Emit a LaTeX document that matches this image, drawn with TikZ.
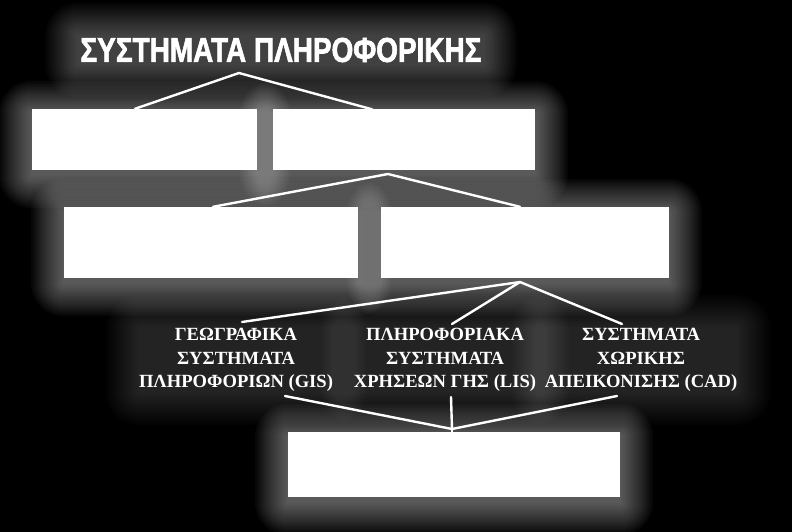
\documentclass[tikz,border=0pt]{standalone}
\usepackage{fontspec}
\setmainfont{Liberation Serif}
\newfontfamily\titlefont[BoldFeatures={FakeBold=2}]{Liberation Sans}
\usetikzlibrary{calc,backgrounds}
\tikzset{
  wbox/.style={draw=none, fill=white, inner sep=0pt, minimum width=#1},
  conn/.style={draw=white, line width=2.4pt, line cap=round, line join=round},
  lbl/.style={text=white, align=center, font=\fontsize{18.6}{23.5}\selectfont\bfseries, inner sep=0pt}
}
\newcommand{\glowaround}[3]{%
  \foreach \s in {1,3,...,33}{%
    \fill[white, opacity=#1, rounded corners=\s pt] ([shift={(-\s pt,\s pt-#2pt)}]#3.north west) rectangle ([shift={(\s pt,-\s pt-#2pt)}]#3.south east);
  }}
\begin{document}
\begin{tikzpicture}[x=1pt,y=-1pt]
\useasboundingbox (0,0) rectangle (792,532);
% title
\node[text=white, inner sep=2pt] (title) at (281,50) {\titlefont\bfseries\fontsize{34.5}{38}\selectfont\scalebox{0.81}[1]{ΣΥΣΤΗΜΑΤΑ ΠΛΗΡΟΦΟΡΙΚΗΣ}};
% boxes
\node[wbox=225pt, minimum height=61pt] (b1) at (144.5,139.5) {};
\node[wbox=262pt, minimum height=60pt] (b2) at (404,139.5) {};
\node[wbox=294pt, minimum height=71pt] (b3) at (211,242.5) {};
\node[wbox=288pt, minimum height=71pt] (b4) at (524.5,242.5) {};
\node[wbox=332pt, minimum height=65pt] (b5) at (454,464.5) {};
% labels
\node[lbl] (t1) at (236,360) {ΓΕΩΓΡΑΦΙΚΑ\\ΣΥΣΤΗΜΑΤΑ\\ΠΛΗΡΟΦΟΡΙΩΝ (GIS)};
\node[lbl] (t2) at (445,360) {ΠΛΗΡΟΦΟΡΙΑΚΑ\\ΣΥΣΤΗΜΑΤΑ\\ΧΡΗΣΕΩΝ ΓΗΣ (LIS)};
\node[lbl] (t3) at (641,360) {ΣΥΣΤΗΜΑΤΑ\\ΧΩΡΙΚΗΣ\\ΑΠΕΙΚΟΝΙΣΗΣ (CAD)};
% connector points
\coordinate (a1) at (239,73);
\coordinate (a2) at (388,174);
\coordinate (a3) at (520,282);
\coordinate (a4) at (452,429);
\coordinate (c1) at (242,322);
\coordinate (c2) at (452,324);
\coordinate (c3) at (622,324);
\coordinate (d1) at (285,396);
\coordinate (d2) at (451,397);
\coordinate (d3) at (617,396);
\begin{scope}[on background layer]
  \fill[black] (0,0) rectangle (792,532);
  \glowaround{0.018}{0}{title}
  \glowaround{0.026}{5}{b1}
  \glowaround{0.026}{5}{b2}
  \glowaround{0.026}{5}{b3}
  \glowaround{0.026}{5}{b4}
  \glowaround{0.026}{5}{b5}
  \glowaround{0.01}{0}{t1}
  \glowaround{0.01}{0}{t2}
  \glowaround{0.01}{0}{t3}
\end{scope}
% connectors
\draw[conn] (b1.north -| 135,0) -- (a1) -- (b2.north -| 372,0);
\draw[conn] (b3.north -| 213,0) -- (a2) -- (b4.north -| 520,0);
\draw[conn] (c1) -- (a3) -- (c3);
\draw[conn] (a3) -- (c2);
\draw[conn] (d1) -- (a4) -- (d3);
\draw[conn] (d2) -- (a4);
\draw[conn] (a4) -- (b5.north -| a4);
\end{tikzpicture}
\end{document}
